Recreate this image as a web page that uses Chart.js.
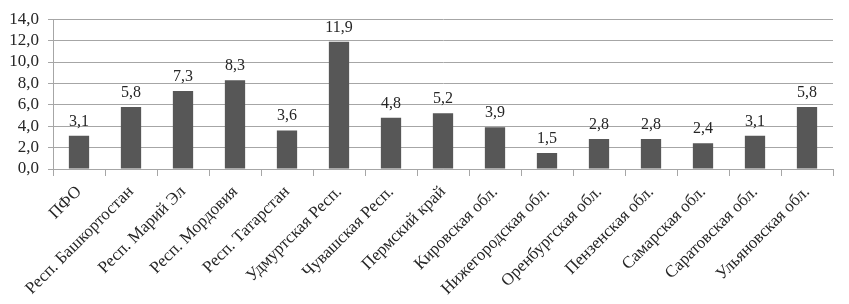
<!DOCTYPE html>
<html>
<head>
<meta charset="utf-8">
<script src="https://cdn.jsdelivr.net/npm/chart.js@4/dist/chart.umd.min.js"></script>
<style>
html,body{margin:0;padding:0;background:#fff;}
#wrap{width:849px;height:304px;position:relative;}
</style>
</head>
<body>
<div id="wrap"><canvas id="c" width="849" height="304"></canvas></div>
<script>
const categories = ['ПФО','Респ. Башкортостан','Респ. Марий Эл','Респ. Мордовия','Респ. Татарстан','Удмуртская Респ.','Чувашская Респ.','Пермский край','Кировская обл.','Нижегородская обл.','Оренбургская обл.','Пензенская обл.','Самарская обл.','Саратовская обл.','Ульяновская обл.'];
const values = [3.1,5.8,7.3,8.3,3.6,11.9,4.8,5.2,3.9,1.5,2.8,2.8,2.4,3.1,5.8];
const yMin = 0, yMax = 14, yStep = 2;

const FONT = '"Liberation Serif", "DejaVu Serif", serif';
const fmt = v => Number(v).toFixed(1).replace('.', ',');

const valueLabels = {
  id: 'valueLabels',
  afterDatasetsDraw(chart) {
    const ctx = chart.ctx;
    const meta = chart.getDatasetMeta(0);
    ctx.save();
    ctx.font = '16px ' + FONT;
    ctx.fillStyle = '#262626';
    ctx.textAlign = 'center';
    ctx.textBaseline = 'alphabetic';
    meta.data.forEach((bar, i) => {
      ctx.fillText(fmt(chart.data.datasets[0].data[i]), bar.x, bar.y - 10);
    });
    ctx.restore();
  }
};

new Chart(document.getElementById('c'), {
  type: 'bar',
  data: {
    labels: categories,
    datasets: [{
      data: values,
      backgroundColor: '#575757',
      borderWidth: 0,
      categoryPercentage: 1,
      barPercentage: 0.39
    }]
  },
  options: {
    responsive: false,
    animation: false,
    layout: { padding: { top: 16, right: 16, left: 0, bottom: 0 } },
    plugins: { legend: { display: false }, tooltip: { enabled: false } },
    scales: {
      x: {
        offset: true,
        grid: { offset: true, drawOnChartArea: false, drawTicks: true, tickLength: 7, color: '#a6a6a6' },
        border: { color: '#a6a6a6' },
        ticks: { color: '#262626', font: { family: FONT, size: 17 }, minRotation: 45, maxRotation: 45, autoSkip: false, padding: 6 },
        afterFit(scale) { scale.height = 135; }
      },
      y: {
        min: yMin, max: yMax,
        grid: { color: '#a6a6a6', tickLength: 5 },
        border: { color: '#a6a6a6' },
        ticks: { stepSize: yStep, autoSkip: false, color: '#262626', font: { family: FONT, size: 17 }, padding: 9, callback: v => fmt(v) },
        afterFit(scale) { scale.width = 53; }
      }
    }
  },
  plugins: [valueLabels]
});
</script>
</body>
</html>
